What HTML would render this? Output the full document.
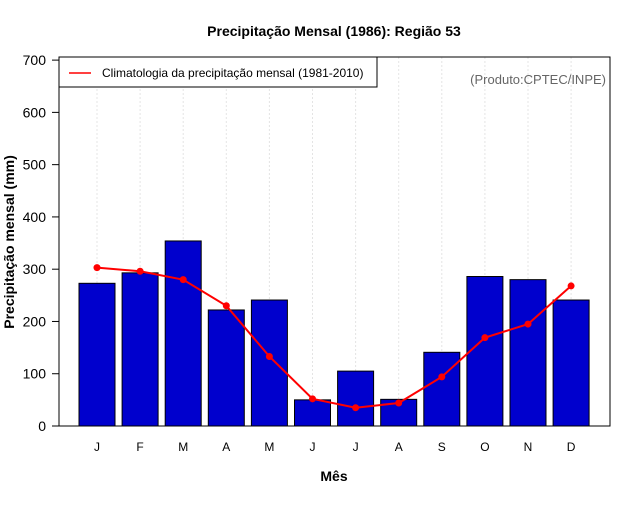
<!DOCTYPE html>
<html><head><meta charset="utf-8"><style>
body{margin:0;background:#fff;font-family:"Liberation Sans",sans-serif}
</style></head><body>
<svg width="640" height="500" xmlns="http://www.w3.org/2000/svg" font-family="Liberation Sans, sans-serif">
<rect width="640" height="500" fill="#fff"/>
<text x="334" y="36" text-anchor="middle" font-size="14" font-weight="bold">Precipitação Mensal (1986): Região 53</text>
<g id="grid"></g>
<g id="bars"></g>
<g id="line"></g>
<rect x="59" y="57" width="551" height="369" fill="none" stroke="#000"/>
<g id="yaxis" font-size="14"></g>
<g id="xaxis" font-size="12"></g>
<text x="334" y="481" text-anchor="middle" font-size="14" font-weight="bold">Mês</text>
<text transform="translate(14,242) rotate(-90)" text-anchor="middle" font-size="14" font-weight="bold">Precipitação mensal (mm)</text>
<g>
<rect x="59" y="57" width="318" height="30" fill="#fff" stroke="#000"/>
<line x1="69" y1="73" x2="91" y2="73" stroke="#f00" stroke-width="1.5"/>
<text x="102" y="77" font-size="12">Climatologia da precipitação mensal (1981-2010)</text>
</g>
<text x="606" y="84" text-anchor="end" font-size="13" fill="#666">(Produto:CPTEC/INPE)</text>
</svg>
<script>
const months=["J","F","M","A","M","J","J","A","S","O","N","D"];
const observed=[273,293,354,222,241,50,105,51,141,286,280,241];
const climatology=[303,296,280,230,133,52,35,44,94,169,195,268];
const yTicks=[0,100,200,300,400,500,600,700];
const NS="http://www.w3.org/2000/svg";
const X=i=>97+i*43.1;
const Y=v=>426-v*0.5227;
function mk(tag,attrs,parent){const e=document.createElementNS(NS,tag);for(const k in attrs)e.setAttribute(k,attrs[k]);document.getElementById(parent).appendChild(e);return e;}
months.forEach((m,i)=>{
 const g=mk("line",{x1:X(i),x2:X(i),y1:57,y2:426,stroke:"#e4e4e4","stroke-dasharray":"2,2"},"grid");
 
 
 const b=mk("rect",{x:X(i)-18,y:Y(observed[i]),width:36,height:426-Y(observed[i]),fill:"#0000cd",stroke:"#000"},"bars");
 
 
 const t=mk("text",{x:X(i),y:451,"text-anchor":"middle"},"xaxis");t.textContent=m;
 
 
});
const pl=mk("polyline",{points:climatology.map((v,i)=>X(i)+","+Y(v)).join(" "),fill:"none",stroke:"#f00","stroke-width":2},"line");


climatology.forEach((v,i)=>{const c=mk("circle",{cx:X(i),cy:Y(v),r:3.5,fill:"#f00"},"line");
 
 });
yTicks.forEach(v=>{
 const l=mk("line",{x1:52,x2:59,y1:Y(v),y2:Y(v),stroke:"#000"},"yaxis");
 
 
 const t=mk("text",{x:46,y:Y(v)+5,"text-anchor":"end"},"yaxis");t.textContent=v;
 
 
});
</script>
</body></html>
